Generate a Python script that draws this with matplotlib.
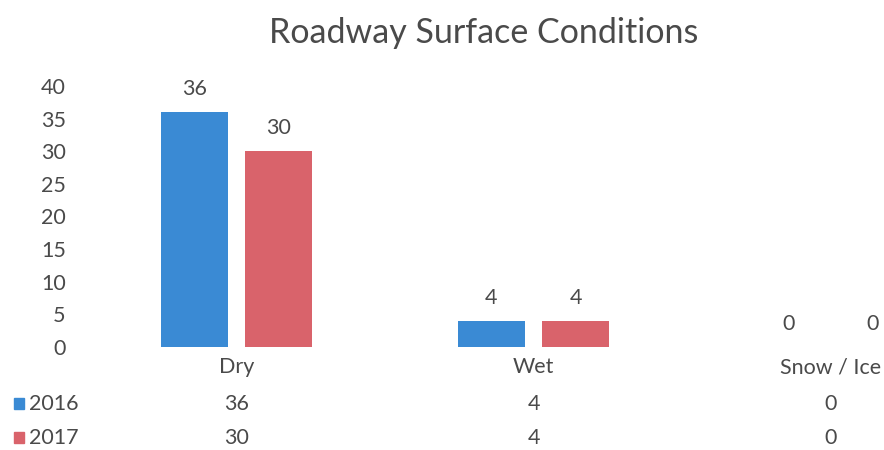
import matplotlib
matplotlib.use("Agg")
import matplotlib.pyplot as plt
import numpy as np

categories = ["Dry", "Wet", "Snow / Ice"]
series_names = ["2016", "2017"]
values_2016 = [36, 4, 0]
values_2017 = [30, 4, 0]
yticks = [0, 5, 10, 15, 20, 25, 30, 35, 40]
title = "Roadway Surface Conditions"

colors = ["#3A8AD4", "#D9636B"]
text_color = "#4A4A4A"
FONT = "Lato"
FS = 15.5

W, H = 884, 450
fig = plt.figure(figsize=(W / 100, H / 100), dpi=100)
fig.patch.set_facecolor("white")

# axes in pixel coordinates
left_px, right_px = 88, 884
bottom_px, top_px = 347, 86
ax = fig.add_axes([left_px / W, (H - bottom_px) / H,
                   (right_px - left_px) / W, (bottom_px - top_px) / H])

x = np.arange(len(categories))
width = 0.225
offset = 0.142
xmax = -0.5 + (right_px - left_px) / 297.0
ax.set_xlim(-0.5, xmax)
ax.set_ylim(0, 40)

for vals, off, c in [(values_2016, -offset, colors[0]), (values_2017, offset, colors[1])]:
    bars = ax.bar(x + off, vals, width, color=c, zorder=2)
    for b, v in zip(bars, vals):
        ax.annotate(str(v), (b.get_x() + b.get_width() / 2, v), xytext=(0, 13),
                    textcoords="offset pixels", ha="center", va="bottom",
                    fontsize=FS, color=text_color, family=FONT, annotation_clip=False)

for s in ax.spines.values():
    s.set_visible(False)
ax.set_yticks(yticks)
ax.set_yticklabels([str(t) for t in yticks], fontsize=FS, color=text_color, family=FONT)
ax.tick_params(axis="y", length=0, pad=16)
ax.set_xticks([])

trans = matplotlib.transforms.blended_transform_factory(ax.transData, fig.transFigure)

# category labels
for xi, cat in zip(x, categories):
    ax.text(xi, (H - 367) / H, cat, transform=trans, ha="center", va="center",
            fontsize=FS, color=text_color, family=FONT, clip_on=False)

# data table
rows_y = [404, 438]
for name, vals, c, ry in zip(series_names, [values_2016, values_2017], colors, rows_y):
    fig.patches.append(matplotlib.patches.Rectangle((14 / W, (H - ry - 5) / H), 10 / W, 11 / H,
                                                    transform=fig.transFigure, color=c, figure=fig))
    fig.text(29 / W, (H - ry) / H, name, ha="left", va="center", fontsize=FS,
             color=text_color, family=FONT)
    for xi, v in zip(x, vals):
        ax.text(xi, (H - ry) / H, str(v), transform=trans, ha="center", va="center",
                fontsize=FS, color=text_color, family=FONT, clip_on=False)

fig.text(484 / W, (H - 33) / H, title, ha="center", va="center", fontsize=24.5,
         color=text_color, family=FONT)

fig.savefig("out.png", dpi=100)
